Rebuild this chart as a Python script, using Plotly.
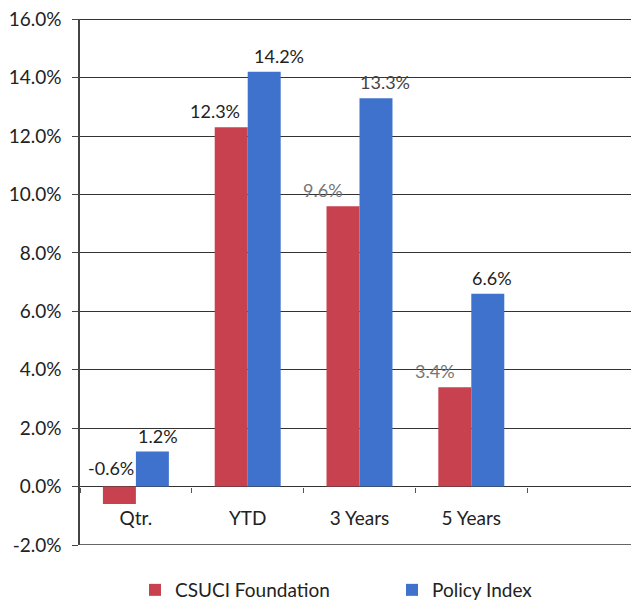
import plotly.graph_objects as go

categories = ["Qtr.", "YTD", "3 Years", "5 Years", " "]
foundation = [-0.6, 12.3, 9.6, 3.4, None]
policy = [1.2, 14.2, 13.3, 6.6, None]
series_names = ["CSUCI Foundation", "Policy Index"]
y_ticks = [-2, 0, 2, 4, 6, 8, 10, 12, 14, 16]
y_tick_labels = [f"{v:.1f}%" for v in y_ticks]

RED = "#C8414E"
BLUE = "#3F72CC"
FONT = "Lato"
label_colors_f = ["#222", "#222", "#777", "#777"]
label_colors_p = ["#222", "#222", "#444", "#222"]
label_dx_f = [-8, -16, -20, -20]   # extra pixel offsets of the labels
label_dx_p = [6, 15, 9, 4]

fig = go.Figure()
fig.add_trace(go.Bar(x=categories, y=foundation, name=series_names[0],
                     marker=dict(color=RED, line=dict(width=0))))
fig.add_trace(go.Bar(x=categories, y=policy, name=series_names[1],
                     marker=dict(color=BLUE, line=dict(width=0))))

# page body has an 8px margin: figure is sized to fit the 639x601 window
W, H = 631, 593
ml, mr, mt, mb = 72, 0, 11, 56
plot_w = W - ml - mr
plot_h = H - mt - mb
cat_w = plot_w / len(categories)
bargap = 0.41
bar_w = cat_w * (1 - bargap) / 2

ymin, ymax = y_ticks[0], y_ticks[-1]
annotations = []
for i, (c, fv, pv) in enumerate(zip(categories, foundation, policy)):
    if fv is not None:
        annotations.append(dict(x=c, y=max(fv, 0), xref="x", yref="y",
                                text=f"{fv:.1f}%", showarrow=False,
                                xshift=-bar_w / 2 + label_dx_f[i],
                                yanchor="bottom", yshift=3 if fv >= 0 else 6,
                                font=dict(family=FONT, size=18, color=label_colors_f[i])))
    if pv is not None:
        annotations.append(dict(x=c, y=max(pv, 0), xref="x", yref="y",
                                text=f"{pv:.1f}%", showarrow=False,
                                xshift=bar_w / 2 + label_dx_p[i], yanchor="bottom", yshift=3,
                                font=dict(family=FONT, size=18, color=label_colors_p[i])))

fig.update_layout(
    width=W, height=H,
    margin=dict(l=ml, r=mr, t=mt, b=mb, autoexpand=False),
    paper_bgcolor="white", plot_bgcolor="white",
    barmode="group", bargap=bargap, bargroupgap=0,
    font=dict(family=FONT, size=17, color="#222"),
    annotations=annotations,
    shapes=[dict(type="line", xref="paper", yref="y", x0=0, x1=1, y0=ymin, y1=ymin,
                 line=dict(color="#333", width=1.3), layer="below"),
            dict(type="line", xref="paper", yref="y", x0=0, x1=1, y0=ymax, y1=ymax,
                 line=dict(color="#333", width=1.3), layer="below")],
    showlegend=True,
    legend=dict(orientation="h", x=(127 - ml) / plot_w, xanchor="left",
                y=-45 / plot_h, yanchor="middle",
                entrywidth=212, entrywidthmode="pixels",
                itemwidth=30, tracegroupgap=0,
                font=dict(family=FONT, size=19, color="#222")),
    xaxis=dict(type="category", categoryorder="array", categoryarray=categories,
               range=[-0.5, len(categories) - 0.5], automargin=False,
               anchor="free", position=(0 - ymin) / (ymax - ymin),
               showline=False, showgrid=False, zeroline=False,
               ticks="outside", tickson="boundaries", ticklen=5, tickcolor="#555",
               ticklabelstandoff=18,
               tickfont=dict(family=FONT, size=19, color="#222")),
    yaxis=dict(range=[ymin, ymax + 0.01], tickmode="array",
               tickvals=y_ticks, ticktext=y_tick_labels,
               automargin=False, ticklabeloverflow="allow",
               showline=True, linecolor="#444", linewidth=1.5,
               showgrid=True, gridcolor="#333", gridwidth=1.3,
               zeroline=True, zerolinecolor="#333", zerolinewidth=1.3,
               ticks="outside", ticklen=6, tickcolor="#444",
               ticklabelstandoff=7,
               tickfont=dict(family=FONT, size=19, color="#222")),
)

fig.write_html("out.html")
